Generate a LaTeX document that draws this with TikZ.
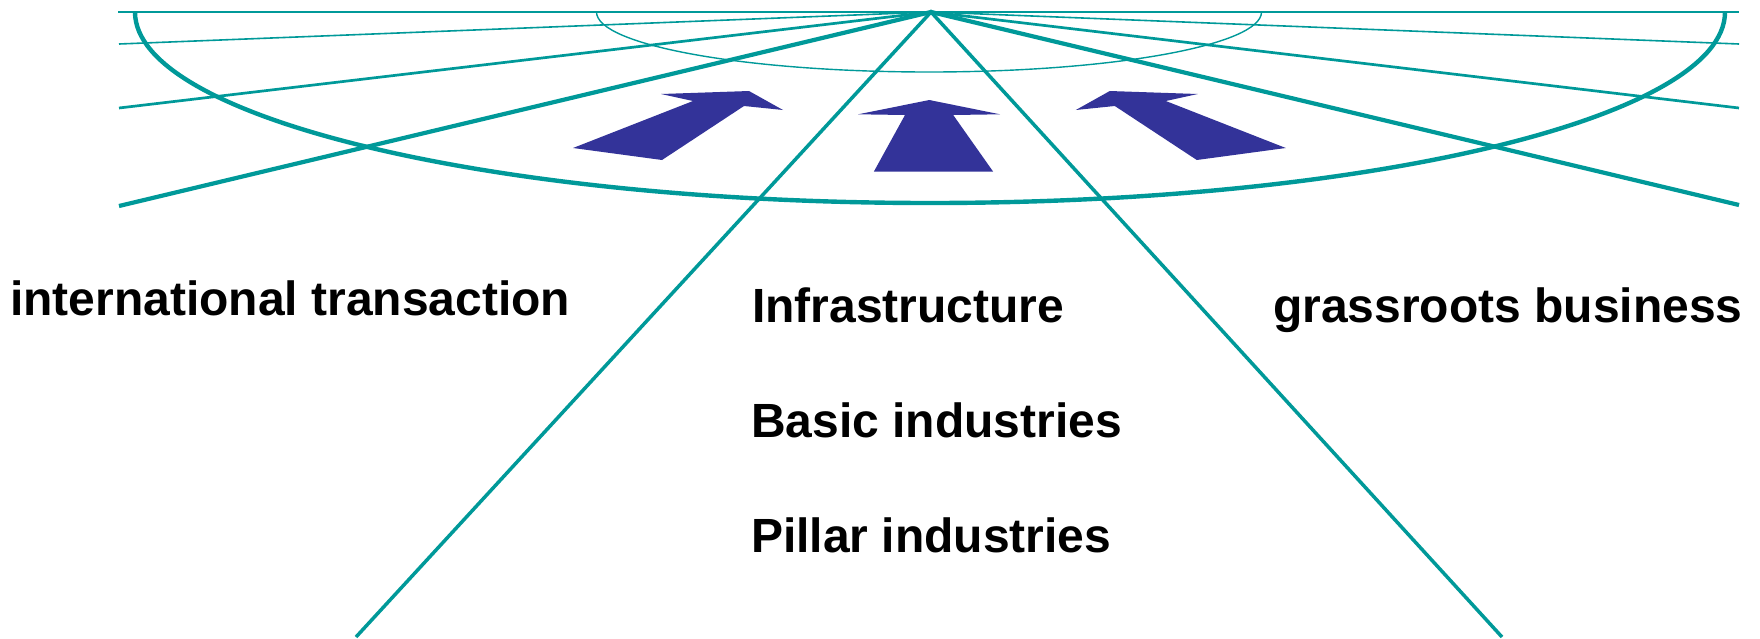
\documentclass[tikz,border=0pt]{standalone}
\usepackage{fontspec}
\setmainfont{Liberation Sans}
\definecolor{teal2}{RGB}{0,153,153}
\definecolor{arrowblue}{RGB}{51,51,153}
\begin{document}
\begin{tikzpicture}[x=1pt,y=-1pt,
  ray/.style={draw=teal2,line cap=butt},
  bigarrow/.style={fill=arrowblue,draw=none},
  lbl/.style={inner sep=0pt,anchor=base west,font=\fontsize{48}{58}\selectfont\bfseries}]
\useasboundingbox (0,0) rectangle (1760,638);
\coordinate (apex) at (931,12);
\coordinate (tl) at (118,12);
\coordinate (tr) at (1739,12);
\coordinate (l2) at (119,44);
\coordinate (r2) at (1739,44);
\coordinate (l3) at (119,108);
\coordinate (r3) at (1739,108);
\coordinate (l4) at (119,206);
\coordinate (r4) at (1739,205);
\coordinate (bl) at (356,637);
\coordinate (br) at (1502,637);
% ellipses (lower halves)
\draw[ray,line width=1.4pt] (596.5,12) arc[start angle=180,end angle=360,x radius=332.5,y radius=-60];
\draw[ray,line width=4.4pt] (135,12) arc[start angle=180,end angle=360,x radius=795,y radius=-191];
% rays
\draw[ray,line width=1.6pt] (tl) -- (tr);
\draw[ray,line width=1.6pt] (l2) -- (apex) -- (r2);
\draw[ray,line width=2.7pt] (l3) -- (apex) -- (r3);
\draw[ray,line width=4.2pt] (l4) -- (apex) -- (r4);
\draw[ray,line width=3.5pt,line join=miter] (bl) -- (apex) -- (br);
% arrows
\fill[bigarrow] (573,148) -- (662,160) -- (744,106) -- (783,110) -- (749,91) -- (661,94) -- (693,101) -- cycle;
\fill[bigarrow] (929.3,100) -- (1000,114.3) -- (953.2,115) -- (993.2,171.7) -- (873.8,171.7) -- (905,115) -- (858.2,114.3) -- cycle;
\fill[bigarrow] (1285.8,148) -- (1196.8,160) -- (1114.8,106) -- (1075.8,110) -- (1109.8,91) -- (1197.8,94) -- (1165.8,101) -- cycle;
% labels
\node[lbl] (intl) at (10,315) {international transaction};
\node[lbl] (infra) at (752,322) {Infrastructure};
\node[lbl] (grass) at (1273,322) {grassroots business};
\node[lbl] (basic) at (751,437) {Basic industries};
\node[lbl] (pillar) at (751,552) {Pillar industries};
\end{tikzpicture}
\end{document}
